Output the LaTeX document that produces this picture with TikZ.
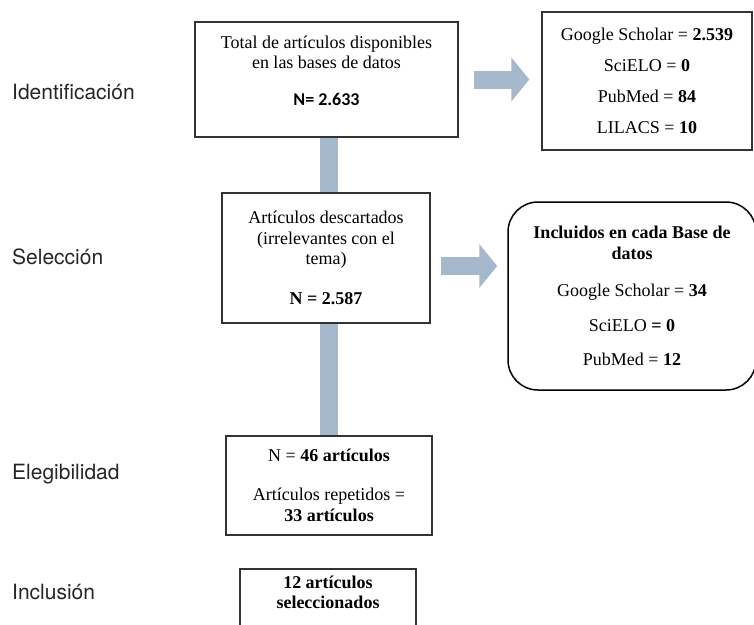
\documentclass[tikz,border=0pt]{standalone}
\usepackage{fontspec}
\setmainfont{Liberation Serif}
\newfontfamily\calibrifont{Carlito}
\newfontfamily\etapafont{TeX Gyre Heros}
\usetikzlibrary{arrows.meta}

\definecolor{barcol}{RGB}{166,184,204}

\begin{document}
\begin{tikzpicture}[x=1pt, y=-1pt]

\def\lw{1.3pt}
\def\bw{18pt}

% ---------- styles ----------
\tikzset{
  caja/.style={
    draw=black!80,
    line width=\lw,
    align=center,
    inner sep=0pt,
    font=\fontsize{18}{20.5}\selectfont
  },
  etapa/.style={
    anchor=west,
    inner sep=0pt,
    text=black!85,
    font=\etapafont\fontsize{21}{24}\selectfont
  },
  barra/.style={
    draw=barcol,
    line width=\bw
  },
  flecha/.style={
    draw=barcol,
    line width=\bw,
    -{Triangle[length=18pt,width=43pt]}
  }
}

\useasboundingbox (0,0) rectangle (754,624);

% ---------- etapas ----------
\foreach \txt/\y [count=\i from 1] in {Identificación/92, Selección/257, Elegibilidad/474, Inclusión/592} {
  \node[etapa] (etapa\i) at (12,\y) {\txt};
}

% ---------- cajas ----------
\node[caja, minimum width=263pt, minimum height=115pt] (total) at (326.5,79.5)
  {Total de artículos disponibles\\ en las bases de datos\\[16.5pt]
   {\calibrifont\bfseries N= 2.633}\\[-3pt]\mbox{}};

\node[caja, minimum width=210pt, minimum height=138pt] (bases) at (647,81)
  {Google Scholar = \textbf{2.539}\\[10.5pt]
   SciELO = \textbf{0}\\[10.5pt]
   PubMed = \textbf{84}\\[10.5pt]
   LILACS = \textbf{10}};

\node[caja, minimum width=208pt, minimum height=130pt] (descartados) at (326,258)
  {Artículos descartados\\ (irrelevantes con el\\ tema)\\[19pt]
   \textbf{N = 2.587}};

\node[caja, draw=black, line width=1.5pt, rounded corners=30pt,
      minimum width=248pt, minimum height=188pt] (incluidos) at (632,296)
  {\textbf{Incluidos en cada Base de}\\ \textbf{datos}\\[17pt]
   Google Scholar = \textbf{34}\\[14pt]
   SciELO \textbf{= 0}\\[14pt]
   PubMed = \textbf{12}};

\node[caja, minimum width=206pt, minimum height=99pt] (elegibles) at (329,485.5)
  {N = \textbf{46 artículos}\\[18.5pt]
   Artículos repetidos =\\ \textbf{33 artículos}};

\node[caja, minimum width=176pt, minimum height=71pt] (seleccion) at (328,604.5)
  {\textbf{12 artículos}\\ \textbf{seleccionados}\\[4pt]\mbox{}};

% ---------- conectores ----------
\draw[barra] (total.south -| elegibles.north) -- (descartados.north -| elegibles.north);
\draw[barra] (descartados.south -| elegibles.north) -- (elegibles.north);

\draw[flecha, shorten <=15pt, shorten >=12pt] (total.east) -- (total.east -| bases.west);
\draw[flecha, shorten <=10pt, shorten >=10pt]
  ([yshift=-8pt]descartados.east) -- ([yshift=-8pt]descartados.east -| incluidos.west);

\end{tikzpicture}
\end{document}
